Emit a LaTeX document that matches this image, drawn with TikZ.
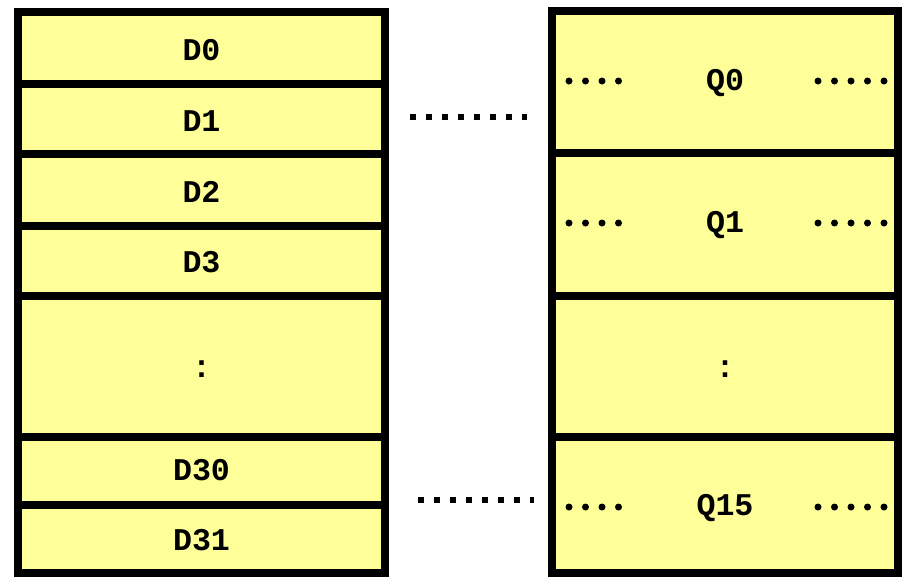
\documentclass[tikz,border=0pt]{standalone}
\usepackage{fontspec}
\newfontfamily\regfont{Liberation Mono}
\definecolor{regyellow}{HTML}{FFFF99}

\tikzset{
  cell/.style={draw, line width=1.6mm, fill=regyellow},
  lbl/.style={font=\regfont\bfseries\fontsize{18}{18}\selectfont},
  bits/.style={line width=1.4mm, line cap=round, dash pattern=on 0pt off 3.3mm},
  link/.style={line width=1.2mm, dash pattern=on 1.2mm off 2mm}
}

\begin{document}
\begin{tikzpicture}[x=0.2mm, y=-0.2mm]
      \useasboundingbox (0,0) rectangle (905,576);

      % data bits
      \draw[cell] (18,12) rectangle (385,84);
      \draw[cell] (18,84) rectangle (385,154);
      \draw[cell] (18,154) rectangle (385,226);
      \draw[cell] (18,226) rectangle (385,296);
      \draw[cell] (18,296) rectangle (385,437);
      \draw[cell] (18,437) rectangle (385,505);
      \draw[cell] (18,505) rectangle (385,573);
      \node[lbl] (d0) at (201.5,50) {D0};
      \node[lbl] (d1) at (201.5,121) {D1};
      \node[lbl] (d2) at (201.5,192) {D2};
      \node[lbl] (d3) at (201.5,262) {D3};
      \node[lbl] (dmid) at (201.5,369) {:};
      \node[lbl] (d30) at (201.5,470) {D30};
      \node[lbl] (d31) at (201.5,540) {D31};

      % outputs
      \draw[cell] (552,11) rectangle (898,153);
      \draw[cell] (552,153) rectangle (898,296);
      \draw[cell] (552,296) rectangle (898,437);
      \draw[cell] (552,437) rectangle (898,573);
      \node[lbl] (q0) at (725,83) {Q0};
      \node[lbl] (q1) at (725,225) {Q1};
      \node[lbl] (qmid) at (725,369) {:};
      \node[lbl] (q15) at (725,508) {Q15};

      % dots on both sides of each output
      \draw[bits] (569,81) -- (619,81);
      \draw[bits] (818,81) -- (886,81);
      \draw[bits] (569,223) -- (619,223);
      \draw[bits] (818,223) -- (886,223);
      \draw[bits] (569,507) -- (619,507);
      \draw[bits] (818,507) -- (886,507);

      % links between the columns
      \coordinate (topl) at (410,117);
      \coordinate (topr) at (527,117);
      \coordinate (botl) at (418,500);
      \coordinate (botr) at (534,500);
      \draw[link] (topl) -- (topr);
      \draw[link] (botl) -- (botr);
    \end{tikzpicture}
\end{document}
